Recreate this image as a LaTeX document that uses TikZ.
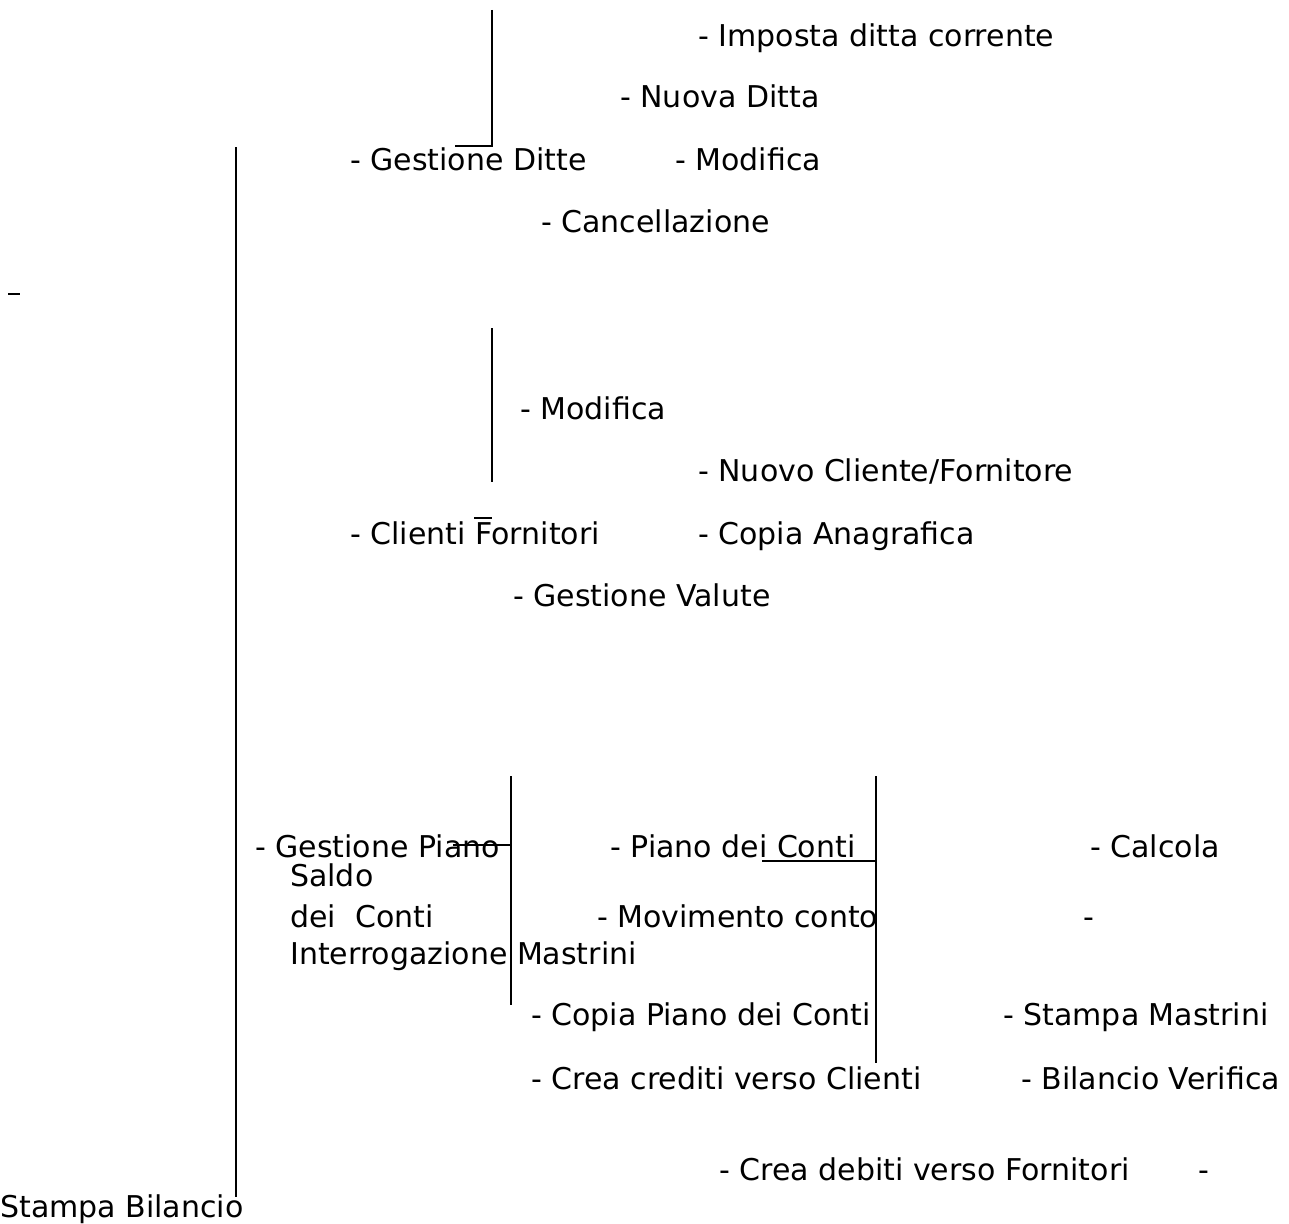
\documentclass[tikz,border=0pt]{standalone}
\usepackage{fontspec}
\setmainfont{DejaVu Sans}
\begin{document}
\begin{tikzpicture}[x=1pt,y=-1pt,
  lbl/.style={anchor=base west, inner sep=0pt, font=\fontsize{30}{36}\selectfont},
  ln/.style={line width=2.4pt}]
\useasboundingbox (0,0) rectangle (1289,1223);
% texts
\node[lbl] (t1) at (698,46) {- Imposta ditta corrente};
\node[lbl] (t2) at (620,107) {- Nuova Ditta};
\node[lbl] (t3) at (350,170) {- Gestione Ditte};
\node[lbl] (t4) at (675,170) {- Modifica};
\node[lbl] (t5) at (541,232) {- Cancellazione};
\node[lbl] (t6) at (520,419) {- Modifica};
\node[lbl] (t7) at (698,481) {- Nuovo Cliente/Fornitore};
\node[lbl] (t8) at (350,544) {- Clienti Fornitori};
\node[lbl] (t9) at (698,544) {- Copia Anagrafica};
\node[lbl] (t10) at (513,606) {- Gestione Valute};
\node[lbl] (t11) at (255,857) {- Gestione Piano};
\node[lbl] (t12) at (610,857) {- Piano dei Conti};
\node[lbl] (t13) at (1090,857) {- Calcola};
\node[lbl] (t14) at (290,886) {Saldo};
\node[lbl] (t15) at (290,927) {dei~ Conti};
\node[lbl] (t16) at (597,927) {- Movimento conto};
\node[lbl] (t17) at (1083,927) {-};
\node[lbl] (t18) at (290,964) {Interrogazione Mastrini};
\node[lbl] (t19) at (531,1025) {- Copia Piano dei Conti};
\node[lbl] (t20) at (1003,1025) {- Stampa Mastrini};
\node[lbl] (t21) at (531,1089) {- Crea crediti verso Clienti};
\node[lbl] (t22) at (1021,1089) {- Bilancio Verifica};
\node[lbl] (t23) at (719,1180) {- Crea debiti verso Fornitori};
\node[lbl] (t24) at (1198,1180) {-};
\node[lbl] (t25) at (0,1217) {Stampa Bilancio};
% line end points
\coordinate (v1a) at (492,10);   \coordinate (v1b) at (492,146);
\coordinate (h1a) at (455,146);
\coordinate (va) at (236,147);   \coordinate (vb) at (236,1197);
\coordinate (da) at (8,294);     \coordinate (db) at (20,294);
\coordinate (v2a) at (492,328);  \coordinate (v2b) at (492,482);
\coordinate (h2a) at (474,518);  \coordinate (h2b) at (492,518);
\coordinate (v3a) at (511,776);  \coordinate (v3b) at (511,1005);
\coordinate (h3a) at (453,845);  \coordinate (h3b) at (511,845);
\coordinate (v4a) at (876,776);  \coordinate (v4b) at (876,1063);
\coordinate (h4a) at (762,861);  \coordinate (h4b) at (876,861);
% lines
\draw[ln] (v1a) -- (v1b) -- (h1a);
\draw[ln] (va) -- (vb);
\draw[ln] (da) -- (db);
\draw[ln] (v2a) -- (v2b);
\draw[ln] (h2a) -- (h2b);
\draw[ln] (v3a) -- (v3b);
\draw[ln] (h3a) -- (h3b);
\draw[ln] (v4a) -- (v4b);
\draw[ln] (h4a) -- (h4b);
\end{tikzpicture}
\end{document}
